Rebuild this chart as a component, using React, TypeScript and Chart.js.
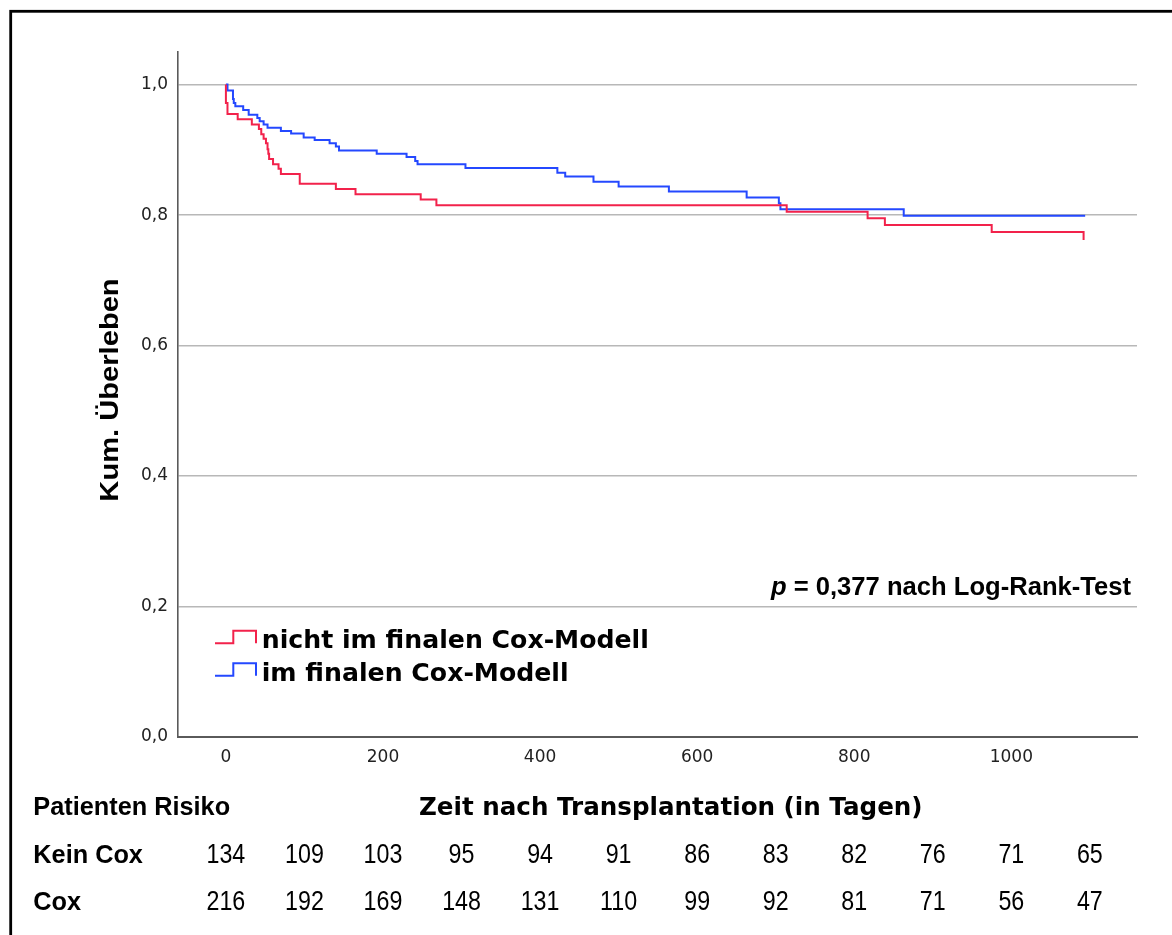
import React, { useEffect, useRef } from "react";
import { Chart, registerables } from "chart.js";

Chart.register(...registerables);

// ---- data ----
const seriesLabels = ["nicht im finalen Cox-Modell", "im finalen Cox-Modell"];

const redTimes = [0, 0, 2, 15, 33, 42, 45, 48, 51, 53, 54, 55, 60, 67, 70, 94, 140, 165, 248, 268, 714, 817, 839, 975, 1092];
const redSurv = [1.0, 0.972, 0.955, 0.947, 0.939, 0.932, 0.924, 0.917, 0.91, 0.901, 0.894, 0.886, 0.878, 0.871, 0.863, 0.848, 0.84, 0.832, 0.824, 0.815, 0.805, 0.795, 0.785, 0.774, 0.762];

const blueTimes = [0, 2, 9, 10, 12, 22, 29, 40, 43, 48, 53, 70, 83, 99, 113, 132, 140, 144, 192, 230, 241, 244, 305, 422, 432, 468, 500, 564, 663, 704, 706, 863, 1094];
const blueSurv = [1.0, 0.991, 0.978, 0.972, 0.967, 0.961, 0.954, 0.949, 0.944, 0.939, 0.934, 0.929, 0.925, 0.919, 0.915, 0.91, 0.905, 0.899, 0.894, 0.889, 0.883, 0.878, 0.872, 0.865, 0.859, 0.851, 0.844, 0.836, 0.827, 0.818, 0.809, 0.799, 0.799];

const yTicks = [0, 0.2, 0.4, 0.6, 0.8, 1.0];
const xTicks = [0, 200, 400, 600, 800, 1000];

const riskTimes = [0, 100, 200, 300, 400, 500, 600, 700, 800, 900, 1000, 1100];
const riskRowLabels = ["Kein Cox", "Cox"];
const riskKein = [134, 109, 103, 95, 94, 91, 86, 83, 82, 76, 71, 65];
const riskCox = [216, 192, 169, 148, 131, 110, 99, 92, 81, 71, 56, 47];

const yTitle = "Kum. Überleben";
const xTitle = "Zeit nach Transplantation (in Tagen)";
const riskTitle = "Patienten Risiko";
const pLabelItalic = "p";
const pLabelRest = " = 0,377 nach Log-Rank-Test";

const RED = "#f2224b";
const BLUE = "#2448ff";

const SANS = "'DejaVu Sans', sans-serif";
const ARIAL = "'Liberation Sans', Arial, sans-serif";

const decorPlugin = {
  id: "decor",
  beforeDraw(chart: any) {
    const ctx = chart.ctx;
    ctx.save();
    ctx.fillStyle = "#ffffff";
    ctx.fillRect(0, 0, chart.width, chart.height);
    ctx.strokeStyle = "#000000";
    ctx.lineWidth = 2.8;
    ctx.strokeRect(10.7, 11.3, chart.width + 50, chart.height + 50);
    ctx.restore();
  },
  afterDraw(chart: any) {
    const ctx = chart.ctx;
    const xs = chart.scales.x;
    ctx.save();
    ctx.fillStyle = "#000000";

    // y title
    ctx.save();
    ctx.translate(118, 390);
    ctx.rotate(-Math.PI / 2);
    ctx.scale(1.12, 1);
    ctx.font = `bold 26px ${ARIAL}`;
    ctx.textAlign = "center";
    ctx.textBaseline = "alphabetic";
    ctx.fillText(yTitle, 0, 0);
    ctx.restore();

    // x title
    ctx.font = `bold 24.6px ${SANS}`;
    ctx.textAlign = "left";
    ctx.textBaseline = "alphabetic";
    ctx.fillText(xTitle, 419, 815);

    // p value
    ctx.font = `bold 25.6px ${ARIAL}`;
    ctx.textAlign = "right";
    const restW = ctx.measureText(pLabelRest).width;
    ctx.fillText(pLabelRest, 1131, 595);
    ctx.font = `italic bold 25.6px ${ARIAL}`;
    ctx.fillText(pLabelItalic, 1131 - restW, 595);

    // legend
    chart.data.datasets.forEach((ds: any, i: number) => {
      const base = 648.3 + i * 32.4;
      const low = base - 5;
      const high = base - 17.5;
      ctx.strokeStyle = ds.borderColor;
      ctx.lineWidth = 2;
      ctx.beginPath();
      ctx.moveTo(215, low);
      ctx.lineTo(233.3, low);
      ctx.lineTo(233.3, high);
      ctx.lineTo(256, high);
      ctx.lineTo(256, low);
      ctx.stroke();
      ctx.fillStyle = "#000000";
      ctx.font = `bold 25.2px ${SANS}`;
      ctx.textAlign = "left";
      ctx.fillText(ds.label, 261.7, base);
    });

    // risk table
    ctx.fillStyle = "#000000";
    ctx.textAlign = "left";
    ctx.font = `bold 25.3px ${ARIAL}`;
    ctx.fillText(riskTitle, 33.3, 815);
    const rows = [riskKein, riskCox];
    const baselines = [863.3, 910];
    rows.forEach((row, r) => {
      ctx.font = `bold 25.3px ${ARIAL}`;
      ctx.textAlign = "left";
      ctx.fillText(riskRowLabels[r], 33.3, baselines[r]);
      ctx.font = `28px ${ARIAL}`;
      ctx.textAlign = "center";
      row.forEach((n, k) => {
        const px = xs.getPixelForValue(riskTimes[k]);
        ctx.save();
        ctx.translate(px, baselines[r]);
        ctx.scale(0.83, 1);
        ctx.fillText(String(n), 0, 0);
        ctx.restore();
      });
    });
    ctx.restore();
  },
};

export default function App() {
  const ref = useRef<HTMLCanvasElement | null>(null);

  useEffect(() => {
    if (!ref.current) return;
    const mk = (ts: number[], ss: number[]) => ts.map((t, i) => ({ x: t, y: ss[i] }));
    const chart = new Chart(ref.current, {
      type: "line",
      data: {
        datasets: [
          {
            label: seriesLabels[0],
            data: mk(redTimes, redSurv),
            borderColor: RED,
            backgroundColor: RED,
            borderWidth: 2,
            pointRadius: 0,
            stepped: "before",
            fill: false,
          },
          {
            label: seriesLabels[1],
            data: mk(blueTimes, blueSurv),
            borderColor: BLUE,
            backgroundColor: BLUE,
            borderWidth: 2,
            pointRadius: 0,
            stepped: "before",
            fill: false,
          },
        ],
      },
      options: {
        animation: false,
        responsive: true,
        maintainAspectRatio: false,
        events: [],
        layout: { padding: { top: 52, right: 35, left: 0, bottom: 0 } },
        plugins: {
          legend: { display: false },
          tooltip: { enabled: false },
          title: { display: false },
        },
        scales: {
          x: {
            type: "linear",
            min: -61,
            max: 1160,
            grid: { display: false, drawTicks: false },
            border: { display: true, color: "#5a5a5a", width: 2 },
            afterBuildTicks: (s: any) => {
              s.ticks = xTicks.map((v) => ({ value: v }));
            },
            afterFit: (s: any) => {
              s.height = 198;
            },
            ticks: {
              padding: 10,
              color: "#222222",
              font: { family: SANS, size: 17 },
              maxRotation: 0,
              autoSkip: false,
              callback: (v: any) => String(v),
            },
          },
          y: {
            type: "linear",
            min: 0,
            max: 1.05,
            grid: { display: true, color: "#b8b8b8", lineWidth: 1.6, drawTicks: false },
            border: { display: true, color: "#5a5a5a", width: 1.6 },
            afterBuildTicks: (s: any) => {
              s.ticks = yTicks.map((v) => ({ value: v }));
            },
            afterFit: (s: any) => {
              s.width = 178;
            },
            ticks: {
              padding: 10,
              color: "#222222",
              font: { family: SANS, size: 17 },
              autoSkip: false,
              callback: (v: any) => Number(v).toFixed(1).replace(".", ","),
            },
          },
        },
      },
      plugins: [decorPlugin],
    });
    return () => chart.destroy();
  }, []);

  return (
    <div style={{ position: "absolute", left: 0, top: 0, width: 1172, height: 935, overflow: "hidden", background: "#fff" }}>
      <canvas ref={ref} />
    </div>
  );
}
